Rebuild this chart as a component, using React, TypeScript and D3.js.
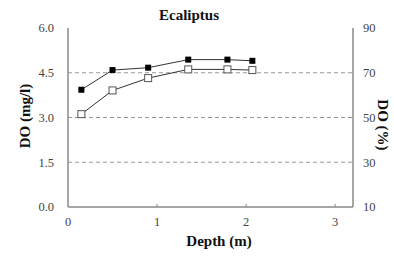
import { useRef, useEffect } from 'react';
import * as d3 from 'd3';

const depth = [0.15, 0.5, 0.9, 1.35, 1.79, 2.07];
const doMgL = [3.93, 4.59, 4.67, 4.94, 4.94, 4.9];
const doPct = [51.5, 62.1, 67.6, 71.5, 71.5, 71.2];
const leftTicks = [0, 1.5, 3, 4.5, 6];
const rightTicks = [10, 30, 50, 70, 90];
const xTicks = [0, 1, 2, 3];

const W = 394;
const H = 259;
const margin = { left: 68, right: 41, top: 28, bottom: 52 };
const font = '"Times New Roman", "Liberation Serif", "DejaVu Serif", serif';

const App = () => {
  const ref = useRef<SVGSVGElement>(null);

  useEffect(() => {
    const svg = d3.select(ref.current);
    svg.selectAll('*').remove();

    const x = d3.scaleLinear().domain([0, 3.2]).range([margin.left, W - margin.right]);
    const y = d3.scaleLinear().domain([0, 6]).range([H - margin.bottom, margin.top]);
    const y2 = d3.scaleLinear().domain([10, 90]).range([H - margin.bottom, margin.top]);
    const axisColor = '#8a8a8a';

    // dashed grid
    svg.append('g')
      .selectAll('line')
      .data([1.5, 3, 4.5])
      .enter().append('line')
      .attr('x1', x(0)).attr('x2', x(3.2))
      .attr('y1', d => y(d)).attr('y2', d => y(d))
      .attr('stroke', '#999')
      .attr('stroke-width', 1)
      .attr('stroke-dasharray', '4,3');

    // axes frame (left, right, bottom)
    const frame = svg.append('g').attr('stroke', axisColor).attr('stroke-width', 1.5);
    frame.append('line').attr('x1', x(0)).attr('x2', x(0)).attr('y1', y(6)).attr('y2', y(0));
    frame.append('line').attr('x1', x(3.2)).attr('x2', x(3.2)).attr('y1', y(6)).attr('y2', y(0));
    frame.append('line').attr('x1', x(0)).attr('x2', x(3.2)).attr('y1', y(0)).attr('y2', y(0));

    frame.selectAll('line.xt')
      .data(xTicks.slice(1))
      .enter().append('line')
      .attr('class', 'xt')
      .attr('x1', d => x(d)).attr('x2', d => x(d))
      .attr('y1', y(0)).attr('y2', y(0) - 3)
      .attr('stroke-width', 1);

    const tickText = (sel: any) => sel
      .style('font-family', font)
      .style('font-size', '12.5px')
      .attr('fill', '#444');

    svg.append('g').selectAll('text')
      .data(leftTicks)
      .enter().append('text')
      .attr('x', x(0) - 14)
      .attr('y', d => y(d))
      .attr('dy', '0.35em')
      .attr('text-anchor', 'end')
      .call(tickText)
      .text(d => d.toFixed(1));

    svg.append('g').selectAll('text')
      .data(rightTicks)
      .enter().append('text')
      .attr('x', x(3.2) + 10)
      .attr('y', d => y2(d))
      .attr('dy', '0.35em')
      .attr('text-anchor', 'start')
      .call(tickText)
      .text(d => d);

    svg.append('g').selectAll('text')
      .data(xTicks)
      .enter().append('text')
      .attr('x', d => x(d))
      .attr('y', y(0) + 15)
      .attr('dy', '0.35em')
      .attr('text-anchor', 'middle')
      .call(tickText)
      .text(d => d);

    // lines
    const lineMg = d3.line<number>().x((d, i) => x(depth[i])).y(d => y(d));
    const linePct = d3.line<number>().x((d, i) => x(depth[i])).y(d => y2(d));
    svg.append('path').attr('d', linePct(doPct)).attr('fill', 'none').attr('stroke', '#333').attr('stroke-width', 1);
    svg.append('path').attr('d', lineMg(doMgL)).attr('fill', 'none').attr('stroke', '#333').attr('stroke-width', 1);

    svg.append('g').selectAll('rect')
      .data(doPct)
      .enter().append('rect')
      .attr('x', (d, i) => x(depth[i]) - 3.5)
      .attr('y', d => y2(d) - 3.5)
      .attr('width', 7).attr('height', 7)
      .attr('fill', '#fff')
      .attr('stroke', '#555')
      .attr('stroke-width', 1);

    svg.append('g').selectAll('rect')
      .data(doMgL)
      .enter().append('rect')
      .attr('x', (d, i) => x(depth[i]) - 3)
      .attr('y', d => y(d) - 3)
      .attr('width', 6).attr('height', 6)
      .attr('fill', '#000');

    // titles
    const titleText = (sel: any) => sel
      .style('font-family', font)
      .style('font-size', '15px')
      .style('font-weight', 'bold')
      .attr('fill', '#111');

    svg.append('text')
      .attr('x', 189).attr('y', 15).attr('dy', '0.35em')
      .attr('text-anchor', 'middle')
      .call(titleText)
      .text('Ecaliptus');

    svg.append('text')
      .attr('x', 219).attr('y', 241).attr('dy', '0.35em')
      .attr('text-anchor', 'middle')
      .call(titleText)
      .text('Depth (m)');

    svg.append('text')
      .attr('transform', `translate(25, ${y(3.05)}) rotate(-90)`)
      .attr('dy', '0.35em')
      .attr('text-anchor', 'middle')
      .call(titleText)
      .text('DO (mg/l)');

    svg.append('text')
      .attr('transform', `translate(383, ${y(2.75)}) rotate(90)`)
      .attr('dy', '0.35em')
      .attr('text-anchor', 'middle')
      .call(titleText)
      .text('DO (%)');
  }, []);

  return (
    <svg ref={ref} width={W} height={H} style={{ position: 'absolute', left: 0, top: 0, background: '#fff' }}></svg>
  );
};

export default App;
